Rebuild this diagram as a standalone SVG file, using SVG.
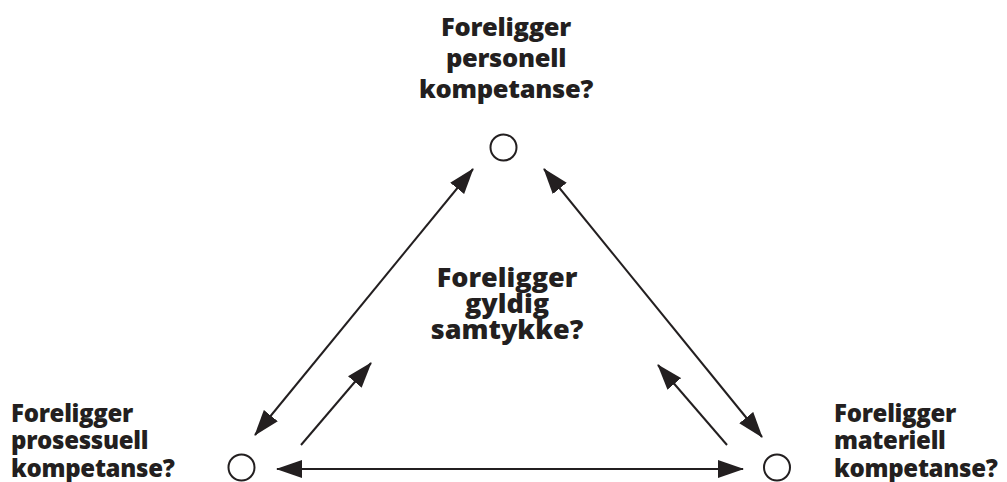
<svg xmlns="http://www.w3.org/2000/svg" width="1007" height="482" viewBox="0 0 1007 482">
  <style>
    .lbl { font-family: "Open Sans", "Liberation Sans", sans-serif; font-weight: 800; fill: #231f20; }
    .top { font-size: 25.5px; letter-spacing: -0.3px; text-anchor: middle; }
    .ctr { font-size: 27px; text-anchor: middle; }
    .bot { font-size: 24px; letter-spacing: -0.3px; }
    .node { fill: #ffffff; stroke: #231f20; stroke-width: 2; }
    .conn { stroke: #231f20; stroke-width: 2; fill: none; }
  </style>
  <defs>
    <marker id="arr" viewBox="0 0 26 18" refX="25" refY="9" markerWidth="26" markerHeight="18" markerUnits="userSpaceOnUse" orient="auto-start-reverse">
      <path d="M0,0 L26,9 L0,18 z" fill="#231f20"/>
    </marker>
  </defs>
  <rect width="1007" height="482" fill="#ffffff"/>

  <g id="node-personell">
    <circle class="node" cx="503.5" cy="147.5" r="13"/>
    <text class="lbl top" x="506" y="36">Foreligger</text>
    <text class="lbl top" x="506" y="67">personell</text>
    <text class="lbl top" x="506" y="98">kompetanse?</text>
  </g>

  <g id="node-samtykke">
    <text class="lbl ctr" x="507" y="287">Foreligger</text>
    <text class="lbl ctr" x="507" y="313">gyldig</text>
    <text class="lbl ctr" x="507" y="339">samtykke?</text>
  </g>

  <g id="node-prosessuell">
    <circle class="node" cx="241.5" cy="467.5" r="13"/>
    <text class="lbl bot" x="11" y="422">Foreligger</text>
    <text class="lbl bot" x="11" y="449">prosessuell</text>
    <text class="lbl bot" x="11" y="477">kompetanse?</text>
  </g>

  <g id="node-materiell">
    <circle class="node" cx="777" cy="467.5" r="13"/>
    <text class="lbl bot" x="834" y="422">Foreligger</text>
    <text class="lbl bot" x="834" y="449">materiell</text>
    <text class="lbl bot" x="834" y="477">kompetanse?</text>
  </g>

  <g id="connectors">
    <line class="conn" x1="255" y1="435" x2="473" y2="169" marker-start="url(#arr)" marker-end="url(#arr)"/>
    <line class="conn" x1="762" y1="437" x2="544" y2="169" marker-start="url(#arr)" marker-end="url(#arr)"/>
    <line class="conn" x1="277" y1="469" x2="743" y2="469" marker-start="url(#arr)" marker-end="url(#arr)"/>
    <line class="conn" x1="301" y1="445" x2="371" y2="363" marker-end="url(#arr)"/>
    <line class="conn" x1="727" y1="445" x2="658" y2="365" marker-end="url(#arr)"/>
  </g>
</svg>
